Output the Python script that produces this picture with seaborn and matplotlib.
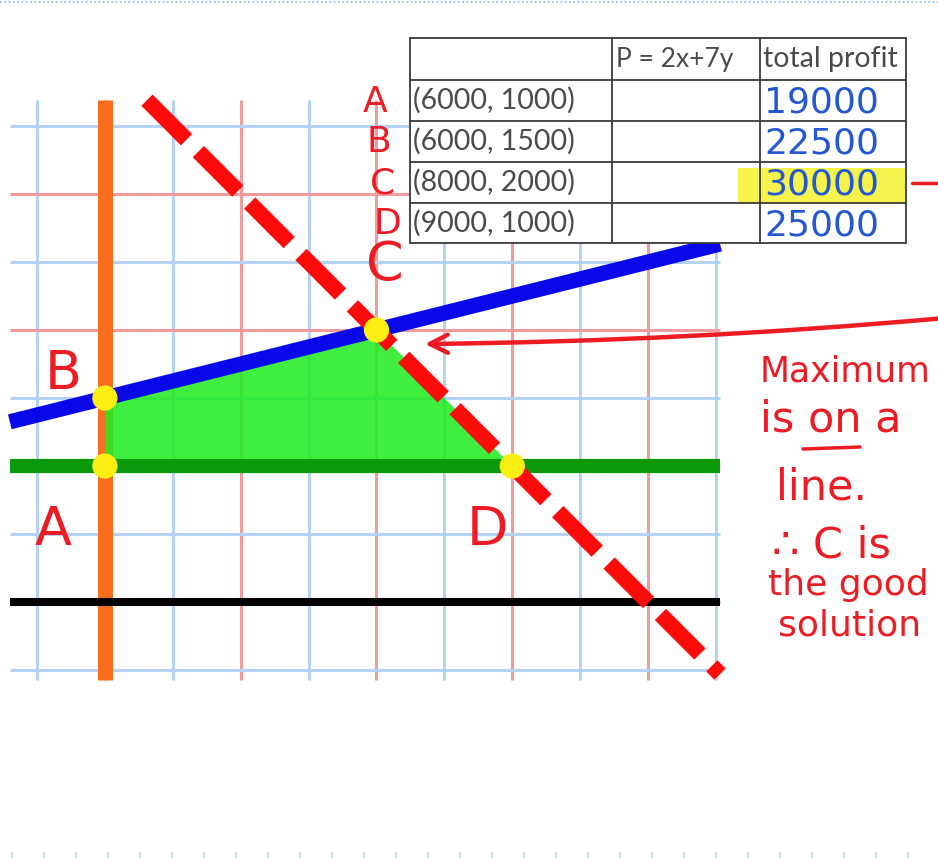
import numpy as np
import matplotlib
matplotlib.use("Agg")
import matplotlib.pyplot as plt
from matplotlib.patches import Rectangle
import seaborn as sns

# Corner points of the feasible region
vertex_names = ["A", "B", "C", "D"]
vertex_x = [6000, 6000, 8000, 9000]
vertex_y = [1000, 1500, 2000, 1000]

# Constraints: x >= 6000, y >= 1000, y <= x/4, x + y <= 10000, and the x-axis
x_min = 6000
y_min = 1000
ratio = 0.25
total_cap = 10000
axis_y = 0

# Objective table: P = 2x + 7y
table_header = ["", "P = 2x+7y", "total profit"]
table_points = ["(6000, 1000)", "(6000, 1500)", "(8000, 2000)", "(9000, 1000)"]
total_profit = [19000, 22500, 30000, 25000]
best_row = 2

# Extent of the drawn graph paper (data units)
x_left, x_right = 5300, 10530
y_bottom, y_top = -575, 3690
grid_step = 500

RED = "#ec1c24"
BLUE_GRID = "#b4d2f4"
RED_GRID = "#f19c9c"
HAND = ["DejaVu Sans"]
PRINT = ["Lato", "DejaVu Sans"]

sns.set_style("white")
plt.rcParams["font.family"] = ["DejaVu Sans"]

fig = plt.figure(figsize=(9.38, 8.58), dpi=100)
ax = fig.add_axes([0, 0, 1, 1])
ax.set_xlim(5227.5, 12135)
ax.set_ylim(-1882, 4426.5)
ax.axis("off")

# graph paper
for gx in np.arange(5500, x_right, grid_step):
    col = RED_GRID if gx % 1000 == 0 else BLUE_GRID
    ax.plot([gx, gx], [y_bottom, y_top], color=col, lw=2.2, zorder=1,
            solid_capstyle="butt")
for gy in np.arange(-500, y_top, grid_step):
    col = RED_GRID if gy % 1000 == 0 else BLUE_GRID
    ax.plot([x_left, x_right], [gy, gy], color=col, lw=2.2, zorder=1,
            solid_capstyle="butt")


def line(xs, ys, **kw):
    sns.lineplot(x=xs, y=ys, ax=ax, sort=False, estimator=None,
                 legend=False, solid_capstyle="butt", **kw)


# x >= 6000
line([x_min, x_min], [y_bottom, y_top], color="#fb6e1d", linewidth=10.8, zorder=2)

# feasible region
ax.fill(vertex_x, vertex_y, color="#22ec22", alpha=0.87, lw=0, zorder=3)

# x-axis
line([x_left, x_right], [axis_y, axis_y], color="black", linewidth=5.8, zorder=3)
# y >= 1000
line([x_left, x_right], [y_min, y_min], color="#0a990a", linewidth=10.2, zorder=4)
# y <= x/4
line([x_left, x_right], [ratio * x_left, ratio * x_right],
     color="#0808e8", linewidth=11, zorder=5)
# x + y <= 10000
line([total_cap - y_top, x_right], [y_top, total_cap - x_right],
     color="#ff0a0a", linewidth=11.5, zorder=6)
dash = ax.lines[-1]
dash.set_linestyle((0, (3.5, 1.05)))
dash.set_dash_capstyle("butt")

# corner points
sns.scatterplot(x=vertex_x, y=vertex_y, ax=ax, s=330, color="#faee12",
                edgecolor="none", zorder=8, legend=False)

label_offsets = {"A": (-37, -46), "B": (-30, 17), "C": (6, 47), "D": (-18, -46)}
for name, vx, vy in zip(vertex_names, vertex_x, vertex_y):
    ax.annotate(name, (vx, vy), xytext=label_offsets[name],
                textcoords="offset points", ha="center", va="center",
                fontsize=39, color=RED, family=HAND, zorder=9)

# overlay in pixel units for the table and notes
pax = fig.add_axes([0, 0, 1, 1], facecolor="none")
pax.set_xlim(0, 938)
pax.set_ylim(858, 0)
pax.axis("off")
pax.set_zorder(3)

# page edges
pax.plot([0, 938], [2, 2], color="#9ccaf0", lw=1.4, ls=(0, (1, 1.2)))
for tx_ in np.arange(12, 938, 32):
    pax.plot([tx_, tx_], [853, 858], color="#c4def6", lw=1.5)

# table
col_x = [410, 612, 760, 906]
row_y = [38, 80, 121, 162, 203, 243]
pax.add_patch(Rectangle((col_x[0], row_y[0]), col_x[-1] - col_x[0],
                        row_y[-1] - row_y[0], fc="white", ec="none", zorder=1))
pax.add_patch(Rectangle((738, row_y[best_row + 1] + 6), 905 - 738,
                        row_y[best_row + 2] - row_y[best_row + 1] - 6,
                        fc="#f6f23a", ec="none", alpha=0.9, zorder=2))
for yv in row_y:
    pax.plot([col_x[0], col_x[-1]], [yv, yv], color="#3a3a3a", lw=1.3, zorder=3)
for xv in col_x:
    pax.plot([xv, xv], [row_y[0], row_y[-1]], color="#3a3a3a", lw=1.3, zorder=3)

pax.text(616, 59, table_header[1], fontsize=19, color="#4a4a4a",
         va="center", ha="left", family=PRINT, zorder=4)
pax.text(763, 59, table_header[2], fontsize=20.5, color="#4a4a4a",
         va="center", ha="left", family=PRINT, zorder=4)
for i, (pt, prof) in enumerate(zip(table_points, total_profit)):
    cy = (row_y[i + 1] + row_y[i + 2]) / 2
    pax.text(413, cy, pt, fontsize=20.5, color="#4a4a4a", va="center",
             ha="left", family=PRINT, zorder=4)
    pax.text(764, cy + 2, f"{prof}", fontsize=26, color="#2458d2", va="center",
             ha="left", family=HAND, zorder=4)
    pax.text(375 + 4 * i, cy + 1, vertex_names[i], fontsize=26, color=RED,
             va="center", ha="center", family=HAND, zorder=4)

pax.plot([912, 938], [183, 183], color=RED, lw=2.5)

# arrow pointing at C
pax.annotate("", xy=(422, 344), xytext=(945, 318),
             arrowprops=dict(arrowstyle="->,head_length=1.3,head_width=0.65",
                             color=RED, lw=3.2,
                             connectionstyle="arc3,rad=-0.02"))

# notes
note_kw = dict(color=RED, family=HAND, va="center", ha="left", fontsize=31)
pax.text(760, 372, "Maximum", **{**note_kw, "fontsize": 25})
pax.text(760, 420, "is on a", **note_kw)
pax.plot([803, 860], [449, 447], color=RED, lw=2.5)
pax.text(776, 487, "line.", **note_kw)
pax.text(772, 545, "∴ C is", **note_kw)
pax.text(768, 585, "the good", **{**note_kw, "fontsize": 26})
pax.text(778, 625, "solution", **{**note_kw, "fontsize": 26})

fig.savefig("out.png", dpi=100)
